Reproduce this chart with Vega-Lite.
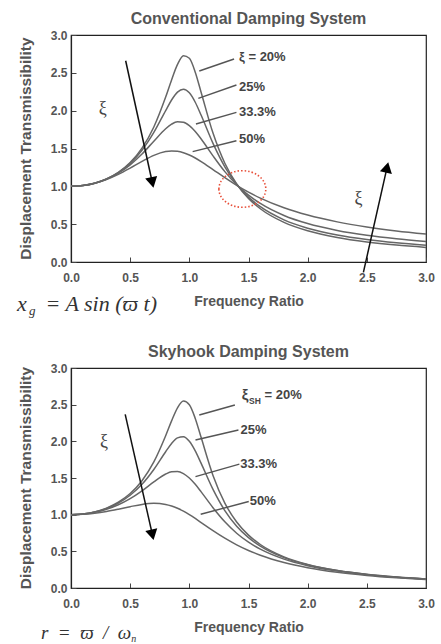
{
  "$schema": "https://vega.github.io/schema/vega-lite/v6.json",
  "padding": {"top": 10, "left": 16, "right": 3, "bottom": 0},
  "spacing": 24,
  "config": {
    "view": {"stroke": "#222", "strokeWidth": 1.2},
    "font": "Liberation Sans",
    "title": {"font": "Liberation Sans", "fontSize": 16, "fontWeight": "bold", "color": "#555", "offset": 2},
    "axis": {
      "grid": false,
      "domainColor": "#222",
      "domainWidth": 1.2,
      "tickColor": "#444",
      "labelColor": "#555",
      "labelFont": "Liberation Sans",
      "labelFontSize": 12,
      "labelFontWeight": "bold",
      "titleFont": "Liberation Sans",
      "titleFontWeight": "bold",
      "titleColor": "#555",
      "labelOverlap": false,
      "labelFlush": false,
      "labelBound": false,
      "values": [0,0.1,0.2,0.3,0.4,0.5,0.6,0.7,0.8,0.9,1,1.1,1.2,1.3,1.4,1.5,1.6,1.7,1.8,1.9,2,2.1,2.2,2.3,2.4,2.5,2.6,2.7,2.8,2.9,3],
      "labelExpr": "abs(datum.value*2 - round(datum.value*2)) < 0.001 ? format(datum.value, '.1f') : ''",
      "tickSize": {"condition": {"test": "abs(datum.value*2 - round(datum.value*2)) < 0.001", "value": -5}, "value": -3}
    },
    "axisX": {"labelPadding": 15, "titlePadding": 11, "titleFontSize": 14},
    "axisY": {"labelPadding": 9}
  },
  "datasets": {
    "conv": [
      {"r":0,"zeta":"20","T":1},{"r":0,"zeta":"25","T":1},{"r":0,"zeta":"33","T":1},{"r":0,"zeta":"50","T":1},
      {"r":0.1,"zeta":"20","T":1.0101},{"r":0.1,"zeta":"25","T":1.0101},{"r":0.1,"zeta":"33","T":1.0100},{"r":0.1,"zeta":"50","T":1.0100},
      {"r":0.2,"zeta":"20","T":1.0414},{"r":0.2,"zeta":"25","T":1.0412},{"r":0.2,"zeta":"33","T":1.0409},{"r":0.2,"zeta":"50","T":1.0400},
      {"r":0.3,"zeta":"20","T":1.0973},{"r":0.3,"zeta":"25","T":1.0964},{"r":0.3,"zeta":"33","T":1.0945},{"r":0.3,"zeta":"50","T":1.0896},
      {"r":0.4,"zeta":"20","T":1.1843},{"r":0.4,"zeta":"25","T":1.1810},{"r":0.4,"zeta":"33","T":1.1743},{"r":0.4,"zeta":"50","T":1.1576},
      {"r":0.5,"zeta":"20","T":1.3138},{"r":0.5,"zeta":"25","T":1.3038},{"r":0.5,"zeta":"33","T":1.2843},{"r":0.5,"zeta":"50","T":1.2403},
      {"r":0.6,"zeta":"20","T":1.5046},{"r":0.6,"zeta":"25","T":1.4771},{"r":0.6,"zeta":"33","T":1.4271},{"r":0.6,"zeta":"50","T":1.3293},
      {"r":0.7,"zeta":"20","T":1.7849},{"r":0.7,"zeta":"25","T":1.7128},{"r":0.7,"zeta":"33","T":1.5963},{"r":0.7,"zeta":"50","T":1.4094},
      {"r":0.8,"zeta":"20","T":2.1798},{"r":0.8,"zeta":"25","T":2.0014},{"r":0.8,"zeta":"33","T":1.7613},{"r":0.8,"zeta":"50","T":1.4598},
      {"r":0.85,"zeta":"20","T":2.4067},{"r":0.85,"zeta":"25","T":2.1407},{"r":0.85,"zeta":"33","T":1.8216},{"r":0.85,"zeta":"50","T":1.4678},
      {"r":0.9,"zeta":"20","T":2.6110},{"r":0.9,"zeta":"25","T":2.2450},{"r":0.9,"zeta":"33","T":1.8530},{"r":0.9,"zeta":"50","T":1.4626},
      {"r":0.95,"zeta":"20","T":2.7269},{"r":0.95,"zeta":"25","T":2.2831},{"r":0.95,"zeta":"33","T":1.8472},{"r":0.95,"zeta":"50","T":1.4443},
      {"r":1.0,"zeta":"20","T":2.6926},{"r":1.0,"zeta":"25","T":2.2361},{"r":1.0,"zeta":"33","T":1.8028},{"r":1.0,"zeta":"50","T":1.4142},
      {"r":1.05,"zeta":"20","T":2.5088},{"r":1.05,"zeta":"25","T":2.1114},{"r":1.05,"zeta":"33","T":1.7254},{"r":1.05,"zeta":"50","T":1.3744},
      {"r":1.1,"zeta":"20","T":2.2409},{"r":1.1,"zeta":"25","T":1.9385},{"r":1.1,"zeta":"33","T":1.6257},{"r":1.1,"zeta":"50","T":1.3275},
      {"r":1.2,"zeta":"20","T":1.7035},{"r":1.2,"zeta":"25","T":1.5674},{"r":1.2,"zeta":"33","T":1.4026},{"r":1.2,"zeta":"50","T":1.2221},
      {"r":1.3,"zeta":"20","T":1.3045},{"r":1.3,"zeta":"25","T":1.2582},{"r":1.3,"zeta":"33","T":1.1945},{"r":1.3,"zeta":"50","T":1.1144},
      {"r":1.4,"zeta":"20","T":1.0313},{"r":1.4,"zeta":"25","T":1.0274},{"r":1.4,"zeta":"33","T":1.0216},{"r":1.4,"zeta":"50","T":1.0135},
      {"r":1.5,"zeta":"20","T":0.8411},{"r":1.5,"zeta":"25","T":0.8575},{"r":1.5,"zeta":"33","T":0.8835},{"r":1.5,"zeta":"50","T":0.9233},
      {"r":1.6,"zeta":"20","T":0.7041},{"r":1.6,"zeta":"25","T":0.7305},{"r":1.6,"zeta":"33","T":0.7737},{"r":1.6,"zeta":"50","T":0.8443},
      {"r":1.8,"zeta":"20","T":0.5237},{"r":1.8,"zeta":"25","T":0.5573},{"r":1.8,"zeta":"33","T":0.6147},{"r":1.8,"zeta":"50","T":0.7166},
      {"r":2.0,"zeta":"20","T":0.4125},{"r":2.0,"zeta":"25","T":0.4472},{"r":2.0,"zeta":"33","T":0.5077},{"r":2.0,"zeta":"50","T":0.6202},
      {"r":2.25,"zeta":"20","T":0.3233},{"r":2.25,"zeta":"25","T":0.3571},{"r":2.25,"zeta":"33","T":0.4163},{"r":2.25,"zeta":"50","T":0.5302},
      {"r":2.5,"zeta":"20","T":0.2646},{"r":2.5,"zeta":"25","T":0.2966},{"r":2.5,"zeta":"33","T":0.3529},{"r":2.5,"zeta":"50","T":0.4631},
      {"r":2.75,"zeta":"20","T":0.2234},{"r":2.75,"zeta":"25","T":0.2536},{"r":2.75,"zeta":"33","T":0.3065},{"r":2.75,"zeta":"50","T":0.4112},
      {"r":3.0,"zeta":"20","T":0.1931},{"r":3.0,"zeta":"25","T":0.2215},{"r":3.0,"zeta":"33","T":0.2712},{"r":3.0,"zeta":"50","T":0.3701}
    ],
    "sky": [
      {"r":0,"zeta":"20","T":1},{"r":0,"zeta":"25","T":1},{"r":0,"zeta":"33","T":1},{"r":0,"zeta":"50","T":1},
      {"r":0.1,"zeta":"20","T":1.0093},{"r":0.1,"zeta":"25","T":1.0088},{"r":0.1,"zeta":"33","T":1.0078},{"r":0.1,"zeta":"50","T":1.0050},
      {"r":0.2,"zeta":"20","T":1.0381},{"r":0.2,"zeta":"25","T":1.0361},{"r":0.2,"zeta":"33","T":1.0318},{"r":0.2,"zeta":"50","T":1.0198},
      {"r":0.3,"zeta":"20","T":1.0895},{"r":0.3,"zeta":"25","T":1.0843},{"r":0.3,"zeta":"33","T":1.0733},{"r":0.3,"zeta":"50","T":1.0436},
      {"r":0.4,"zeta":"20","T":1.1695},{"r":0.4,"zeta":"25","T":1.1581},{"r":0.4,"zeta":"33","T":1.1347},{"r":0.4,"zeta":"50","T":1.0748},
      {"r":0.5,"zeta":"20","T":1.2883},{"r":0.5,"zeta":"25","T":1.2649},{"r":0.5,"zeta":"33","T":1.2184},{"r":0.5,"zeta":"50","T":1.1094},
      {"r":0.6,"zeta":"20","T":1.4630},{"r":0.6,"zeta":"25","T":1.4148},{"r":0.6,"zeta":"33","T":1.3250},{"r":0.6,"zeta":"50","T":1.1399},
      {"r":0.7,"zeta":"20","T":1.7188},{"r":0.7,"zeta":"25","T":1.6167},{"r":0.7,"zeta":"33","T":1.4466},{"r":0.7,"zeta":"50","T":1.1546},
      {"r":0.8,"zeta":"20","T":2.0761},{"r":0.8,"zeta":"25","T":1.8582},{"r":0.8,"zeta":"33","T":1.5541},{"r":0.8,"zeta":"50","T":1.1399},
      {"r":0.85,"zeta":"20","T":2.2786},{"r":0.85,"zeta":"25","T":1.9702},{"r":0.85,"zeta":"33","T":1.5849},{"r":0.85,"zeta":"50","T":1.1184},
      {"r":0.9,"zeta":"20","T":2.4566},{"r":0.9,"zeta":"25","T":2.0472},{"r":0.9,"zeta":"33","T":1.5889},{"r":0.9,"zeta":"50","T":1.0871},
      {"r":0.95,"zeta":"20","T":2.5490},{"r":0.95,"zeta":"25","T":2.0623},{"r":0.95,"zeta":"33","T":1.5606},{"r":0.95,"zeta":"50","T":1.0471},
      {"r":1.0,"zeta":"20","T":2.5},{"r":1.0,"zeta":"25","T":2.0},{"r":1.0,"zeta":"33","T":1.5},{"r":1.0,"zeta":"50","T":1.0},
      {"r":1.05,"zeta":"20","T":2.3130},{"r":1.05,"zeta":"25","T":1.8695},{"r":1.05,"zeta":"33","T":1.4135},{"r":1.05,"zeta":"50","T":0.9479},
      {"r":1.1,"zeta":"20","T":2.0511},{"r":1.1,"zeta":"25","T":1.6986},{"r":1.1,"zeta":"33","T":1.3109},{"r":1.1,"zeta":"50","T":0.8930},
      {"r":1.2,"zeta":"20","T":1.5357},{"r":1.2,"zeta":"25","T":1.3440},{"r":1.2,"zeta":"33","T":1.0953},{"r":1.2,"zeta":"50","T":0.7824},
      {"r":1.3,"zeta":"20","T":1.1574},{"r":1.3,"zeta":"25","T":1.0549},{"r":1.3,"zeta":"33","T":0.9027},{"r":1.3,"zeta":"50","T":0.6795},
      {"r":1.4,"zeta":"20","T":0.8998},{"r":1.4,"zeta":"25","T":0.8417},{"r":1.4,"zeta":"33","T":0.7469},{"r":1.4,"zeta":"50","T":0.5891},
      {"r":1.5,"zeta":"20","T":0.7212},{"r":1.5,"zeta":"25","T":0.6860},{"r":1.5,"zeta":"33","T":0.6247},{"r":1.5,"zeta":"50","T":0.5121},
      {"r":1.6,"zeta":"20","T":0.5931},{"r":1.6,"zeta":"25","T":0.5704},{"r":1.6,"zeta":"33","T":0.5292},{"r":1.6,"zeta":"50","T":0.4475},
      {"r":1.8,"zeta":"20","T":0.4250},{"r":1.8,"zeta":"25","T":0.4142},{"r":1.8,"zeta":"33","T":0.3935},{"r":1.8,"zeta":"50","T":0.3480},
      {"r":2.0,"zeta":"20","T":0.3221},{"r":2.0,"zeta":"25","T":0.3162},{"r":2.0,"zeta":"33","T":0.3046},{"r":2.0,"zeta":"50","T":0.2774},
      {"r":2.25,"zeta":"20","T":0.2403},{"r":2.25,"zeta":"25","T":0.2372},{"r":2.25,"zeta":"33","T":0.2309},{"r":2.25,"zeta":"50","T":0.2153},
      {"r":2.5,"zeta":"20","T":0.1871},{"r":2.5,"zeta":"25","T":0.1853},{"r":2.5,"zeta":"33","T":0.1815},{"r":2.5,"zeta":"50","T":0.1720},
      {"r":2.75,"zeta":"20","T":0.1503},{"r":2.75,"zeta":"25","T":0.1491},{"r":2.75,"zeta":"33","T":0.1468},{"r":2.75,"zeta":"50","T":0.1405},
      {"r":3.0,"zeta":"20","T":0.1236},{"r":3.0,"zeta":"25","T":0.1229},{"r":3.0,"zeta":"33","T":0.1213},{"r":3.0,"zeta":"50","T":0.1170}
    ],
    "convLead": [
      {"x":1.084,"y":2.524,"x2":1.378,"y2":2.683},
      {"x":1.076,"y":2.163,"x2":1.398,"y2":2.339},
      {"x":1.056,"y":1.824,"x2":1.398,"y2":1.978},
      {"x":1.028,"y":1.458,"x2":1.398,"y2":1.603}
    ],
    "convLab": [
      {"x":1.42,"y":2.71,"label":"ξ = 20%"},
      {"x":1.42,"y":2.31,"label":"25%"},
      {"x":1.42,"y":1.98,"label":"33.3%"},
      {"x":1.42,"y":1.625,"label":"50%"}
    ],
    "convArrow": [
      {"x":0.462,"y":2.66,"x2":0.687,"y2":1.051},
      {"x":2.471,"y":-0.136,"x2":2.671,"y2":1.25}
    ],
    "skyLead": [
      {"x":1.084,"y":2.359,"x2":1.385,"y2":2.495},
      {"x":1.052,"y":2.018,"x2":1.415,"y2":2.155},
      {"x":1.052,"y":1.518,"x2":1.423,"y2":1.69},
      {"x":1.096,"y":1.005,"x2":1.502,"y2":1.18}
    ],
    "skyLab": [
      {"x":1.635,"y":2.632,"label":"= 20%"},
      {"x":1.432,"y":2.155,"label":"25%"},
      {"x":1.43,"y":1.69,"label":"33.3%"},
      {"x":1.51,"y":1.186,"label":"50%"}
    ],
    "yTitle": [
      {"x": -0.38, "y": 1.5, "label": "Displacement Transmissibility"}
    ]
  },
  "vconcat": [
    {
      "width": 355,
      "height": 227,
      "title": {"text": "Conventional Damping System"},
      "layer": [
        {
          "data": {"name": "conv"},
          "mark": {"type": "line", "interpolate": "monotone", "color": "#666", "strokeWidth": 1.5},
          "encoding": {
            "x": {"field": "r", "type": "quantitative", "title": "Frequency Ratio", "scale": {"domain": [0, 3], "nice": false}},
            "y": {"field": "T", "type": "quantitative", "title": null, "scale": {"domain": [0, 3], "nice": false}},
            "detail": {"field": "zeta"}
          }
        },
        {
          "data": {"name": "yTitle"},
          "mark": {"type": "text", "angle": 270, "align": "center", "baseline": "middle", "font": "Liberation Sans", "fontWeight": "bold", "fontSize": 15.5, "color": "#555", "clip": false},
          "encoding": {
            "x": {"field": "x", "type": "quantitative"},
            "y": {"field": "y", "type": "quantitative"},
            "text": {"field": "label"}
          }
        },
        {
          "data": {"name": "convLead"},
          "mark": {"type": "rule", "color": "#555", "strokeWidth": 1.4},
          "encoding": {
            "x": {"field": "x", "type": "quantitative"},
            "y": {"field": "y", "type": "quantitative"},
            "x2": {"field": "x2"},
            "y2": {"field": "y2"}
          }
        },
        {
          "data": {"name": "convLab"},
          "mark": {"type": "text", "align": "left", "baseline": "middle", "font": "Liberation Sans", "fontWeight": "bold", "fontSize": 13, "color": "#444"},
          "encoding": {
            "x": {"field": "x", "type": "quantitative"},
            "y": {"field": "y", "type": "quantitative"},
            "text": {"field": "label"}
          }
        },
        {
          "data": {"name": "convArrow"},
          "mark": {"type": "rule", "color": "#111", "strokeWidth": 1.5, "clip": false},
          "encoding": {
            "x": {"field": "x", "type": "quantitative"},
            "y": {"field": "y", "type": "quantitative"},
            "x2": {"field": "x2"},
            "y2": {"field": "y2"}
          }
        },
        {
          "data": {"values": [{"x": 0.687, "y": 1.051}]},
          "mark": {"type": "point", "shape": "triangle-up", "size": 150, "filled": true, "color": "#000", "opacity": 1, "angle": 167.5},
          "encoding": {"x": {"field": "x", "type": "quantitative"}, "y": {"field": "y", "type": "quantitative"}}
        },
        {
          "data": {"values": [{"x": 2.671, "y": 1.25}]},
          "mark": {"type": "point", "shape": "triangle-up", "size": 150, "filled": true, "color": "#000", "opacity": 1, "angle": 12.8},
          "encoding": {"x": {"field": "x", "type": "quantitative"}, "y": {"field": "y", "type": "quantitative"}}
        },
        {
          "data": {"values": [{"x": 0.269, "y": 2.02, "label": "ξ"}, {"x": 2.43, "y": 0.833, "label": "ξ"}]},
          "mark": {"type": "text", "font": "Liberation Serif", "fontSize": 18, "color": "#444", "align": "center", "baseline": "middle"},
          "encoding": {"x": {"field": "x", "type": "quantitative"}, "y": {"field": "y", "type": "quantitative"}, "text": {"field": "label"}}
        },
        {
          "data": {"values": [{"x": 1.448, "y": 0.965}]},
          "mark": {"type": "point", "shape": "M -1 0 A 1 0.78 0 1 1 1 0 A 1 0.78 0 1 1 -1 0 Z", "size": 2200, "filled": false, "stroke": "#e8503a", "strokeWidth": 1.6, "strokeDash": [1.5, 2], "opacity": 1},
          "encoding": {"x": {"field": "x", "type": "quantitative"}, "y": {"field": "y", "type": "quantitative"}}
        },
        {
          "data": {"values": [{"x": -0.456, "y": -0.56, "label": "x"}, {"x": -0.215, "y": -0.56, "label": "= A sin (ϖ t)"}]},
          "mark": {"type": "text", "font": "Liberation Serif", "fontStyle": "italic", "fontSize": 22, "color": "#333", "align": "left", "baseline": "middle", "clip": false},
          "encoding": {"x": {"field": "x", "type": "quantitative"}, "y": {"field": "y", "type": "quantitative"}, "text": {"field": "label"}}
        },
        {
          "data": {"values": [{"x": -0.355, "y": -0.645, "label": "g"}]},
          "mark": {"type": "text", "font": "Liberation Serif", "fontStyle": "italic", "fontSize": 13, "color": "#333", "align": "left", "baseline": "middle", "clip": false},
          "encoding": {"x": {"field": "x", "type": "quantitative"}, "y": {"field": "y", "type": "quantitative"}, "text": {"field": "label"}}
        }
      ]
    },
    {
      "width": 355,
      "height": 220,
      "title": {"text": "Skyhook Damping System"},
      "layer": [
        {
          "data": {"name": "sky"},
          "mark": {"type": "line", "interpolate": "monotone", "color": "#666", "strokeWidth": 1.5},
          "encoding": {
            "x": {"field": "r", "type": "quantitative", "title": "Frequency Ratio", "scale": {"domain": [0, 3], "nice": false}},
            "y": {"field": "T", "type": "quantitative", "title": null, "scale": {"domain": [0, 3], "nice": false}},
            "detail": {"field": "zeta"}
          }
        },
        {
          "data": {"name": "yTitle"},
          "mark": {"type": "text", "angle": 270, "align": "center", "baseline": "middle", "font": "Liberation Sans", "fontWeight": "bold", "fontSize": 15.5, "color": "#555", "clip": false},
          "encoding": {
            "x": {"field": "x", "type": "quantitative"},
            "y": {"field": "y", "type": "quantitative"},
            "text": {"field": "label"}
          }
        },
        {
          "data": {"name": "skyLead"},
          "mark": {"type": "rule", "color": "#555", "strokeWidth": 1.4},
          "encoding": {
            "x": {"field": "x", "type": "quantitative"},
            "y": {"field": "y", "type": "quantitative"},
            "x2": {"field": "x2"},
            "y2": {"field": "y2"}
          }
        },
        {
          "data": {"name": "skyLab"},
          "mark": {"type": "text", "align": "left", "baseline": "middle", "font": "Liberation Sans", "fontWeight": "bold", "fontSize": 13, "color": "#444"},
          "encoding": {
            "x": {"field": "x", "type": "quantitative"},
            "y": {"field": "y", "type": "quantitative"},
            "text": {"field": "label"}
          }
        },
        {
          "data": {"values": [{"x": 1.443, "y": 2.632, "label": "ξ"}]},
          "mark": {"type": "text", "align": "left", "baseline": "middle", "font": "Liberation Sans", "fontWeight": "bold", "fontSize": 15, "color": "#444"},
          "encoding": {"x": {"field": "x", "type": "quantitative"}, "y": {"field": "y", "type": "quantitative"}, "text": {"field": "label"}}
        },
        {
          "data": {"values": [{"x": 1.504, "y": 2.545, "label": "SH"}]},
          "mark": {"type": "text", "align": "left", "baseline": "middle", "font": "Liberation Sans", "fontWeight": "bold", "fontSize": 8.5, "color": "#444"},
          "encoding": {"x": {"field": "x", "type": "quantitative"}, "y": {"field": "y", "type": "quantitative"}, "text": {"field": "label"}}
        },
        {
          "data": {"values": [{"x": 0.458, "y": 2.368, "x2": 0.688, "y2": 0.726}]},
          "mark": {"type": "rule", "color": "#111", "strokeWidth": 1.5},
          "encoding": {
            "x": {"field": "x", "type": "quantitative"},
            "y": {"field": "y", "type": "quantitative"},
            "x2": {"field": "x2"},
            "y2": {"field": "y2"}
          }
        },
        {
          "data": {"values": [{"x": 0.688, "y": 0.726}]},
          "mark": {"type": "point", "shape": "triangle-up", "size": 150, "filled": true, "color": "#000", "opacity": 1, "angle": 167.6},
          "encoding": {"x": {"field": "x", "type": "quantitative"}, "y": {"field": "y", "type": "quantitative"}}
        },
        {
          "data": {"values": [{"x": 0.278, "y": 1.995, "label": "ξ"}]},
          "mark": {"type": "text", "font": "Liberation Serif", "fontSize": 18, "color": "#444", "align": "center", "baseline": "middle"},
          "encoding": {"x": {"field": "x", "type": "quantitative"}, "y": {"field": "y", "type": "quantitative"}, "text": {"field": "label"}}
        },
        {
          "data": {"values": [{"x": -0.254, "y": -0.62, "label": "r\u2002=\u2002ϖ\u2002/\u2002ω"}]},
          "mark": {"type": "text", "font": "Liberation Serif", "fontStyle": "italic", "fontSize": 19, "color": "#333", "align": "left", "baseline": "middle", "clip": false},
          "encoding": {"x": {"field": "x", "type": "quantitative"}, "y": {"field": "y", "type": "quantitative"}, "text": {"field": "label"}}
        },
        {
          "data": {"values": [{"x": 0.51, "y": -0.69, "label": "n"}]},
          "mark": {"type": "text", "font": "Liberation Serif", "fontStyle": "italic", "fontSize": 10, "color": "#333", "align": "left", "baseline": "middle", "clip": false},
          "encoding": {"x": {"field": "x", "type": "quantitative"}, "y": {"field": "y", "type": "quantitative"}, "text": {"field": "label"}}
        }
      ]
    }
  ]
}
